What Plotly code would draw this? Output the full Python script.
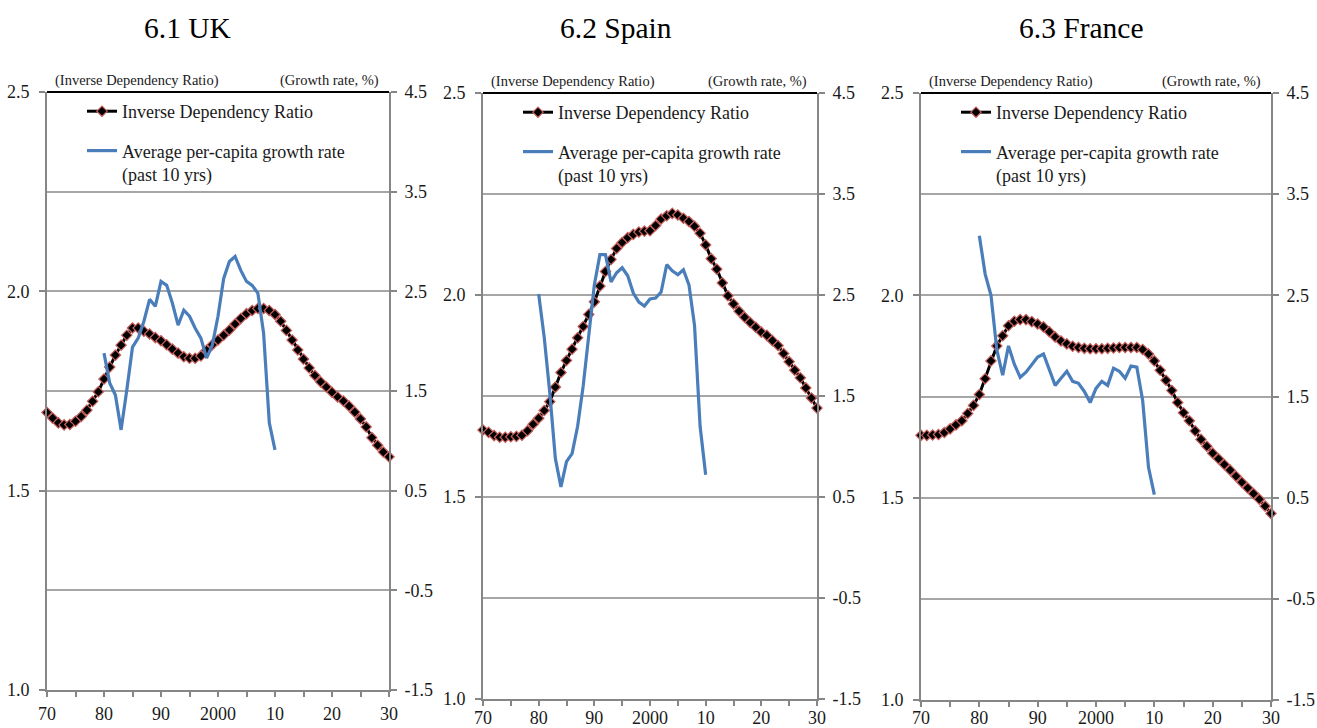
import plotly.graph_objects as go

# ---- data -------------------------------------------------------------
years_idr = list(range(1970, 2031))
years_growth = list(range(1980, 2011))

uk_idr = [1.696, 1.682, 1.670, 1.665, 1.666, 1.674, 1.686, 1.702, 1.724, 1.748,
          1.780, 1.810, 1.840, 1.865, 1.890, 1.908, 1.908, 1.900, 1.893, 1.884,
          1.876, 1.866, 1.855, 1.845, 1.836, 1.832, 1.832, 1.838, 1.852, 1.866,
          1.878, 1.890, 1.903, 1.918, 1.932, 1.944, 1.952, 1.957, 1.957, 1.952,
          1.942, 1.925, 1.902, 1.878, 1.853, 1.830, 1.808, 1.789, 1.773, 1.760,
          1.747, 1.735, 1.725, 1.712, 1.697, 1.680, 1.660, 1.633, 1.614, 1.597,
          1.585]
uk_growth = [1.88, 1.58, 1.46, 1.11, 1.51, 1.94, 2.03, 2.20, 2.42, 2.35,
             2.60, 2.56, 2.38, 2.16, 2.31, 2.25, 2.13, 2.03, 1.83, 1.96,
             2.25, 2.63, 2.80, 2.85, 2.71, 2.60, 2.56, 2.48, 2.08, 1.18,
             0.91]

spain_idr = [1.666, 1.660, 1.652, 1.648, 1.648, 1.649, 1.650, 1.653, 1.664, 1.680,
             1.695, 1.714, 1.736, 1.772, 1.808, 1.838, 1.866, 1.894, 1.922, 1.952,
             1.983, 2.022, 2.058, 2.088, 2.115, 2.130, 2.142, 2.150, 2.156, 2.158,
             2.159, 2.172, 2.188, 2.196, 2.202, 2.198, 2.190, 2.182, 2.170, 2.153,
             2.124, 2.090, 2.064, 2.030, 1.998, 1.978, 1.960, 1.945, 1.932, 1.920,
             1.908, 1.900, 1.887, 1.875, 1.855, 1.835, 1.814, 1.795, 1.770, 1.745,
             1.720]
spain_growth = [2.51, 2.08, 1.53, 0.88, 0.60, 0.85, 0.93, 1.20, 1.60, 2.10,
                2.60, 2.90, 2.90, 2.63, 2.72, 2.77, 2.69, 2.52, 2.43, 2.39,
                2.46, 2.47, 2.53, 2.80, 2.74, 2.70, 2.75, 2.60, 2.20, 1.20,
                0.72]

france_idr = [1.654, 1.654, 1.655, 1.656, 1.661, 1.670, 1.680, 1.690, 1.708, 1.728,
              1.755, 1.794, 1.838, 1.875, 1.900, 1.925, 1.936, 1.940, 1.940, 1.935,
              1.929, 1.922, 1.910, 1.897, 1.887, 1.880, 1.874, 1.871, 1.869, 1.868,
              1.868, 1.868, 1.869, 1.870, 1.871, 1.871, 1.871, 1.871, 1.866, 1.855,
              1.838, 1.815, 1.790, 1.765, 1.735, 1.710, 1.690, 1.665, 1.644, 1.627,
              1.610, 1.596, 1.582, 1.568, 1.553, 1.538, 1.524, 1.510, 1.496, 1.479,
              1.461]
france_growth = [3.09, 2.71, 2.50, 1.96, 1.71, 2.00, 1.82, 1.69, 1.74, 1.82,
                 1.89, 1.92, 1.77, 1.61, 1.68, 1.75, 1.65, 1.63, 1.55, 1.44,
                 1.58, 1.65, 1.61, 1.78, 1.75, 1.68, 1.80, 1.79, 1.46, 0.80,
                 0.53]

titles = ["6.1 UK", "6.2 Spain", "6.3 France"]
x_tick_vals = [1970, 1980, 1990, 2000, 2010, 2020, 2030]
x_tick_text = ["70", "80", "90", "2000", "10", "20", "30"]
left_ticks = [1.0, 1.5, 2.0, 2.5]
right_ticks = [-1.5, -0.5, 0.5, 1.5, 2.5, 3.5, 4.5]

idr_name = "Inverse Dependency Ratio"
growth_name = "Average per-capita growth rate<br>(past 10 yrs)"

# ---- styling ----------------------------------------------------------
W, H = 1317, 728
FONT = "Liberation Serif"
TXT = "#1a1a1a"
AXIS_GREY = "#868686"
GRID_GREY = "#a6a6a6"
IDR_LINE = "#000000"
IDR_EDGE = "#c8605d"
GROWTH_BLUE = "#4a7ebb"

# plot boxes in pixels: left, right, top, bottom
boxes = [(47, 389, 92, 690), (483, 817, 93, 699), (921, 1271, 93, 700)]
# horizontal centre of each panel heading, in pixels
title_centers = [187, 616, 1081]
# x tick-label offset per panel (bottom-most panels sit close to the page edge)
x_label_standoff = [1, -4, -5]

series = [(uk_idr, uk_growth), (spain_idr, spain_growth), (france_idr, france_growth)]

fig = go.Figure()
layout = dict(
    width=W, height=H, autosize=False,
    margin=dict(l=0, r=0, t=0, b=0, pad=0),
    paper_bgcolor="white", plot_bgcolor="white",
    font=dict(family=FONT, size=18, color=TXT),
    showlegend=True,
)
annotations = []
shapes = []

for i, ((idr, growth), (l, r, t, b), title) in enumerate(zip(series, boxes, titles)):
    n = i + 1
    xs = "" if n == 1 else str(n)
    yl = 2 * n - 1
    yr = 2 * n
    yl_s = "" if yl == 1 else str(yl)
    yr_s = str(yr)
    leg = "legend" if n == 1 else f"legend{n}"

    xdom = [l / W, r / W]
    ydom = [1 - b / H, 1 - t / H]

    fig.add_trace(go.Scatter(
        x=years_idr, y=idr, xaxis="x" + xs, yaxis="y" + yl_s,
        mode="lines+markers", name=idr_name, legend=leg,
        legendgroup=f"idr{n}", cliponaxis=False,
        line=dict(color=IDR_LINE, width=3),
        marker=dict(symbol="diamond", size=8, color=IDR_LINE,
                    line=dict(color=IDR_EDGE, width=1.2)),
    ))
    fig.add_trace(go.Scatter(
        x=years_growth, y=growth, xaxis="x" + xs, yaxis="y" + yr_s,
        mode="lines", name=growth_name, legend=leg,
        legendgroup=f"growth{n}", cliponaxis=False,
        line=dict(color=GROWTH_BLUE, width=3.2),
    ))

    layout["xaxis" + xs] = dict(
        domain=xdom, anchor="y" + yl_s, range=[1970, 2030], automargin=False,
        tickvals=x_tick_vals, ticktext=x_tick_text,
        ticks="outside", ticklen=5, tickwidth=1.5, tickcolor=AXIS_GREY,
        minor=dict(dtick=5, tick0=1970, ticks="outside", ticklen=5,
                   tickwidth=1.5, tickcolor=AXIS_GREY),
        showline=True, linecolor=AXIS_GREY, linewidth=2,
        showgrid=False, zeroline=False, ticklabelstandoff=x_label_standoff[i],
        tickfont=dict(size=18, color=TXT, family=FONT),
    )
    layout["yaxis" + yl_s] = dict(
        domain=ydom, anchor="x" + xs, range=[1.0, 2.5], automargin=False,
        tickvals=left_ticks, ticktext=[f"{v:.1f}" for v in left_ticks],
        ticks="outside", ticklen=6, tickwidth=1.5, tickcolor=AXIS_GREY,
        showline=True, linecolor=AXIS_GREY, linewidth=2,
        showgrid=False, zeroline=False, ticklabelstandoff=6,
        tickfont=dict(size=18, color=TXT, family=FONT),
    )
    layout["yaxis" + yr_s] = dict(
        domain=ydom, anchor="x" + xs, overlaying="y" + yl_s, side="right",
        range=[-1.5, 4.5], tickvals=right_ticks, automargin=False,
        ticktext=[f"{v:.1f}" for v in right_ticks],
        ticks="outside", ticklen=6, tickwidth=1.5, tickcolor=AXIS_GREY,
        showline=True, linecolor=AXIS_GREY, linewidth=2,
        showgrid=True, gridcolor=GRID_GREY, gridwidth=1.5,
        zeroline=False, ticklabelstandoff=4,
        tickfont=dict(size=18, color=TXT, family=FONT),
    )

    layout[leg] = dict(
        x=(l + 35) / W, y=1 - (t + 1) / H, xanchor="left", yanchor="top",
        bgcolor="rgba(0,0,0,0)", borderwidth=0,
        font=dict(family=FONT, size=18, color=TXT),
        tracegroupgap=13, valign="top", itemwidth=30,
    )

    # black frame line along the top of the plot area
    shapes.append(dict(type="line", xref=f"x{xs} domain", yref=f"y{yl_s} domain",
                       x0=0, x1=1, y0=1, y1=1,
                       line=dict(color="black", width=2)))

    annotations.append(dict(text=title, x=title_centers[i] / W, y=1 - 28 / H,
                            xref="paper", yref="paper", showarrow=False,
                            xanchor="center", yanchor="middle",
                            font=dict(family=FONT, size=29.5, color="black")))
    annotations.append(dict(text="(Inverse Dependency Ratio)", x=(l + 6) / W,
                            y=1 - (t - 1) / H, xref="paper", yref="paper",
                            showarrow=False, xanchor="left", yanchor="bottom",
                            font=dict(family=FONT, size=14.5, color=TXT)))
    annotations.append(dict(text="(Growth rate, %)", x=(r - 8) / W,
                            y=1 - (t - 1) / H, xref="paper", yref="paper",
                            showarrow=False, xanchor="right", yanchor="bottom",
                            font=dict(family=FONT, size=14.5, color=TXT)))

layout["annotations"] = annotations
layout["shapes"] = shapes
fig.update_layout(**layout)

# page without the default body margin so the figure fills the window exactly
fig.write_html("out.html",
               post_script="document.body.style.margin='0';document.body.style.overflow='hidden';")
